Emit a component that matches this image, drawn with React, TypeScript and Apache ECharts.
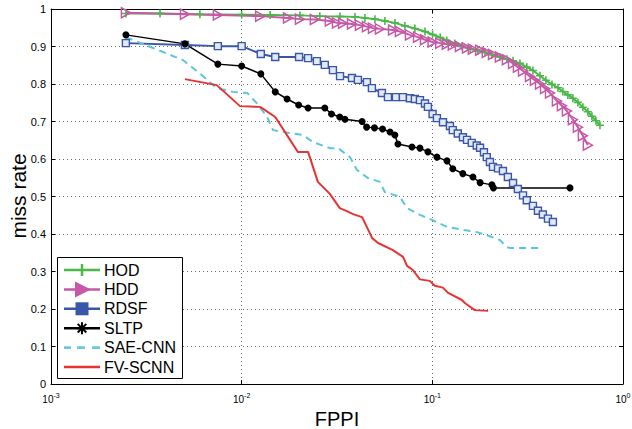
import React, { useEffect, useRef } from 'react';
import * as echarts from 'echarts';

const FONT = '"Liberation Sans", Arial, Helvetica, sans-serif';

// ---- data (FPPI, miss rate) ----
const HOD_X = [0.00247, 0.00373, 0.00604, 0.01, 0.0141, 0.0202, 0.0257, 0.0328, 0.0393, 0.0443, 0.05, 0.0564, 0.0637, 0.0718, 0.081, 0.0915, 0.1003, 0.110, 0.119, 0.131, 0.143, 0.158, 0.173, 0.189, 0.205, 0.226, 0.246, 0.265, 0.288, 0.313, 0.337, 0.367, 0.394, 0.424, 0.456, 0.484, 0.514, 0.546, 0.580, 0.616, 0.654, 0.687, 0.721, 0.757];
const HOD_Y = [0.988, 0.988, 0.986, 0.985, 0.984, 0.983, 0.981, 0.980, 0.979, 0.976, 0.973, 0.968, 0.963, 0.955, 0.948, 0.940, 0.932, 0.924, 0.916, 0.908, 0.901, 0.894, 0.888, 0.884, 0.878, 0.872, 0.866, 0.862, 0.855, 0.845, 0.836, 0.822, 0.810, 0.799, 0.790, 0.780, 0.771, 0.762, 0.751, 0.738, 0.726, 0.714, 0.702, 0.690];

const HDD_X = [0.00247, 0.00504, 0.0075, 0.0125, 0.0175, 0.0202, 0.0242, 0.029, 0.0316, 0.034, 0.0379, 0.0417, 0.0454, 0.0488, 0.0531, 0.0622, 0.0676, 0.0763, 0.0841, 0.0915, 0.1003, 0.110, 0.119, 0.128, 0.1395, 0.152, 0.163, 0.178, 0.193, 0.208, 0.226, 0.246, 0.265, 0.281, 0.299, 0.325, 0.345, 0.367, 0.39, 0.414, 0.45, 0.478, 0.508, 0.546, 0.580, 0.616, 0.654];
const HDD_Y = [0.99, 0.986, 0.984, 0.981, 0.976, 0.973, 0.972, 0.968, 0.963, 0.962, 0.96, 0.957, 0.953, 0.949, 0.947, 0.944, 0.94, 0.931, 0.925, 0.918, 0.912, 0.909, 0.906, 0.904, 0.9, 0.896, 0.893, 0.89, 0.884, 0.879, 0.872, 0.865, 0.855, 0.845, 0.835, 0.82, 0.81, 0.8, 0.788, 0.776, 0.755, 0.742, 0.728, 0.705, 0.685, 0.662, 0.637];

const RDSF_X = [0.00247, 0.00504, 0.0075, 0.01, 0.0126, 0.015, 0.02, 0.0223, 0.0248, 0.0273, 0.0301, 0.0328, 0.0379, 0.0407, 0.0454, 0.0482, 0.0544, 0.0585, 0.0644, 0.0701, 0.0763, 0.081, 0.0861, 0.0915, 0.0948, 0.1003, 0.1057, 0.1137, 0.1237, 0.128, 0.136, 0.1447, 0.152, 0.161, 0.171, 0.178, 0.1865, 0.193, 0.2005, 0.208, 0.221, 0.2346, 0.249, 0.265, 0.281, 0.299, 0.313, 0.337, 0.358, 0.38, 0.404, 0.429];
const RDSF_Y = [0.909, 0.904, 0.901, 0.901, 0.88, 0.872, 0.872, 0.869, 0.861, 0.851, 0.837, 0.821, 0.816, 0.811, 0.805, 0.789, 0.776, 0.765, 0.765, 0.765, 0.762, 0.76, 0.757, 0.748, 0.739, 0.72, 0.709, 0.698, 0.688, 0.677, 0.668, 0.658, 0.651, 0.643, 0.636, 0.63, 0.618, 0.605, 0.592, 0.579, 0.575, 0.568, 0.552, 0.536, 0.52, 0.503, 0.49, 0.475, 0.462, 0.452, 0.441, 0.432];

const SLTP_X = [0.00247, 0.00504, 0.0075, 0.01, 0.0126, 0.015, 0.0173, 0.0199, 0.0223, 0.0273, 0.0296, 0.0327, 0.0348, 0.0428, 0.0452, 0.0497, 0.0548, 0.06, 0.0636, 0.066, 0.0782, 0.0861, 0.0948, 0.1057, 0.1193, 0.128, 0.1445, 0.1633, 0.178, 0.2053, 0.209, 0.527];
const SLTP_Y = [0.931, 0.907, 0.853, 0.848, 0.827, 0.779, 0.76, 0.744, 0.736, 0.736, 0.72, 0.712, 0.706, 0.700, 0.685, 0.683, 0.68, 0.672, 0.664, 0.640, 0.632, 0.629, 0.619, 0.605, 0.595, 0.574, 0.561, 0.552, 0.537, 0.531, 0.523, 0.523];

const SAE_X = [0.00247, 0.00343, 0.00492, 0.006, 0.0074, 0.009, 0.0107, 0.012, 0.0136, 0.0146, 0.0179, 0.0209, 0.0237, 0.029, 0.032, 0.037, 0.0402, 0.046, 0.0531, 0.0563, 0.0676, 0.0737, 0.0861, 0.1003, 0.1193, 0.1445, 0.1714, 0.193, 0.226, 0.246, 0.255, 0.366];
const SAE_Y = [0.925, 0.896, 0.864, 0.829, 0.789, 0.779, 0.776, 0.749, 0.712, 0.677, 0.669, 0.664, 0.645, 0.629, 0.629, 0.605, 0.571, 0.549, 0.539, 0.512, 0.499, 0.469, 0.451, 0.437, 0.419, 0.411, 0.405, 0.397, 0.384, 0.365, 0.363, 0.363];

const FV_X = [0.00504, 0.0074, 0.0098, 0.0125, 0.015, 0.0197, 0.0223, 0.0251, 0.029, 0.0327, 0.0356, 0.0384, 0.0428, 0.0484, 0.0519, 0.0621, 0.0702, 0.0737, 0.079, 0.0861, 0.097, 0.103, 0.1136, 0.121, 0.143, 0.148, 0.167, 0.196];
const FV_Y = [0.813, 0.797, 0.741, 0.739, 0.712, 0.619, 0.619, 0.539, 0.507, 0.469, 0.461, 0.453, 0.445, 0.389, 0.376, 0.357, 0.339, 0.315, 0.304, 0.279, 0.275, 0.262, 0.257, 0.243, 0.224, 0.216, 0.197, 0.195];

const NAMES = ['HOD', 'HDD', 'RDSF', 'SLTP', 'SAE-CNN', 'FV-SCNN'];
const COLORS = ['#4ab848', '#c658a6', '#3957a8', '#000000', '#5cc6dc', '#e43434'];
const Y_TITLE = 'miss rate';
const X_TITLE = 'FPPI';

const zip = (xs: number[], ys: number[]) => xs.slice(0, Math.min(xs.length, ys.length)).map((x, i) => [x, ys[i]]);

const PLUS = 'path://M4,0H6V4H10V6H6V10H4V6H0V4H4Z';
const TRI = 'path://M0,0L10,5L0,10Z';

function buildLegend(): any[] {
  const els: any[] = [];
  const x0 = 57.5, y0 = 257.5, w = 125, h = 121;
  els.push({ type: 'rect', shape: { x: x0, y: y0, width: w, height: h }, style: { fill: '#fff', stroke: '#000', lineWidth: 1 }, z: 100 });
  const lx1 = 64, lx2 = 100, cx = 82, tx = 104;
  NAMES.forEach((name, i) => {
    const y = 270 + i * 19.4;
    const c = COLORS[i];
    if (i === 4) {
      [[64, 71], [77, 85], [92, 100]].forEach(([a, b]) => {
        els.push({ type: 'line', shape: { x1: a, y1: y, x2: b, y2: y }, style: { stroke: c, lineWidth: 2.5 }, z: 101 });
      });
    } else {
      els.push({ type: 'line', shape: { x1: lx1, y1: y, x2: lx2, y2: y }, style: { stroke: c, lineWidth: 2.5 }, z: 101 });
    }
    if (i === 0) {
      els.push({ type: 'line', shape: { x1: cx, y1: y - 6, x2: cx, y2: y + 6 }, style: { stroke: c, lineWidth: 2.5 }, z: 102 });
    } else if (i === 1) {
      els.push({ type: 'polygon', shape: { points: [[75, y - 8], [91, y], [75, y + 8]] }, style: { fill: c }, z: 102 });
    } else if (i === 2) {
      els.push({ type: 'rect', shape: { x: cx - 6.5, y: y - 6.5, width: 13, height: 13 }, style: { fill: c }, z: 102 });
    } else if (i === 3) {
      const r = 6;
      const d = r * 0.72;
      [[0, -r, 0, r], [-r, 0, r, 0], [-d, -d, d, d], [-d, d, d, -d]].forEach(([a, b, e, f]) => {
        els.push({ type: 'line', shape: { x1: cx + a, y1: y + b, x2: cx + e, y2: y + f }, style: { stroke: c, lineWidth: 2 }, z: 102 });
      });
    }
    els.push({ type: 'text', x: tx, y: y, style: { text: name, fill: '#000', font: `16px ${FONT}`, textVerticalAlign: 'middle', textAlign: 'left' }, z: 102 });
  });
  els.push({
    type: 'text', x: 18, y: 196, rotation: Math.PI / 2,
    style: { text: Y_TITLE, fill: '#000', font: `21px ${FONT}`, textAlign: 'center', textVerticalAlign: 'middle' }, z: 102,
  });
  return els;
}

export default function App() {
  const ref = useRef<HTMLDivElement>(null);
  useEffect(() => {
    const chart = echarts.init(ref.current!, null, { renderer: 'svg' });
    const dotted = { color: '#6a6a6a', type: [1, 3] as any, width: 1 };
    const option: any = {
      animation: false,
      backgroundColor: '#fff',
      grid: { left: 51, right: 9, top: 9, bottom: 45, containLabel: false, outerBoundsMode: 'none' },
      xAxis: [
        {
          type: 'log', logBase: 10, min: 0.001, max: 1, position: 'bottom',
          axisLine: { show: true, onZero: false, lineStyle: { color: '#000', width: 1 } },
          axisTick: { show: true, inside: true, length: 4, lineStyle: { color: '#000' } },
          minorTick: { show: false },
          splitLine: { show: true, lineStyle: dotted },
          axisLabel: {
            margin: 8,
            formatter: (v: number) => `{b|10}{s|${Math.round(Math.log10(v))}}`,
            rich: {
              b: { fontSize: 10, fontFamily: FONT, color: '#000' },
              s: { fontSize: 7, fontFamily: FONT, color: '#000', padding: [0, 0, 7, 0] },
            },
          },
          name: X_TITLE, nameLocation: 'middle', nameGap: 23,
          nameTextStyle: { fontSize: 20, fontFamily: FONT, color: '#000' },
        },
        {
          type: 'log', logBase: 10, min: 0.001, max: 1, position: 'top',
          axisLine: { show: true, onZero: false, lineStyle: { color: '#000', width: 1 } },
          axisTick: { show: true, inside: true, length: 4, lineStyle: { color: '#000' } },
          axisLabel: { show: false }, splitLine: { show: false },
        },
      ],
      yAxis: [
        {
          type: 'value', min: 0, max: 1, interval: 0.1, position: 'left',
          axisLine: { show: true, onZero: false, lineStyle: { color: '#000', width: 1 } },
          axisTick: { show: true, inside: true, length: 4, lineStyle: { color: '#000' } },
          splitLine: { show: true, lineStyle: dotted },
          axisLabel: { margin: 5, fontSize: 11, fontFamily: FONT, color: '#000' },
        },
        {
          type: 'value', min: 0, max: 1, interval: 0.1, position: 'right',
          axisLine: { show: true, onZero: false, lineStyle: { color: '#000', width: 1 } },
          axisTick: { show: true, inside: true, length: 4, lineStyle: { color: '#000' } },
          axisLabel: { show: false }, splitLine: { show: false },
        },
      ],
      series: [
        {
          name: NAMES[0], type: 'line', data: zip(HOD_X, HOD_Y), xAxisIndex: 0, yAxisIndex: 0,
          symbol: PLUS, symbolSize: 8, showSymbol: true,
          lineStyle: { color: COLORS[0], width: 2 }, itemStyle: { color: COLORS[0] },
        },
        {
          name: NAMES[1], type: 'line', data: zip(HDD_X, HDD_Y), xAxisIndex: 0, yAxisIndex: 0,
          symbol: TRI, symbolSize: [9, 10], showSymbol: true,
          lineStyle: { color: COLORS[1], width: 2 },
          itemStyle: { color: 'rgba(255,255,255,0)', borderColor: COLORS[1], borderWidth: 1.5 },
        },
        {
          name: NAMES[2], type: 'line', data: zip(RDSF_X, RDSF_Y), xAxisIndex: 0, yAxisIndex: 0,
          symbol: 'rect', symbolSize: 7, showSymbol: true,
          lineStyle: { color: COLORS[2], width: 2 },
          itemStyle: { color: '#e4e9f6', borderColor: COLORS[2], borderWidth: 1.4 },
        },
        {
          name: NAMES[3], type: 'line', data: zip(SLTP_X, SLTP_Y), xAxisIndex: 0, yAxisIndex: 0,
          symbol: 'circle', symbolSize: 7, showSymbol: true,
          lineStyle: { color: COLORS[3], width: 1.5 }, itemStyle: { color: COLORS[3] },
        },
        {
          name: NAMES[4], type: 'line', data: zip(SAE_X, SAE_Y), xAxisIndex: 0, yAxisIndex: 0,
          symbol: 'none', lineStyle: { color: COLORS[4], width: 2, type: [7, 5] },
        },
        {
          name: NAMES[5], type: 'line', data: zip(FV_X, FV_Y), xAxisIndex: 0, yAxisIndex: 0,
          symbol: 'none', lineStyle: { color: COLORS[5], width: 2 },
        },
      ],
      graphic: buildLegend(),
    };
    chart.setOption(option);
    return () => chart.dispose();
  }, []);
  return <div ref={ref} style={{ position: 'fixed', left: 0, top: 0, width: 632, height: 429, background: '#fff' }} />;
}
